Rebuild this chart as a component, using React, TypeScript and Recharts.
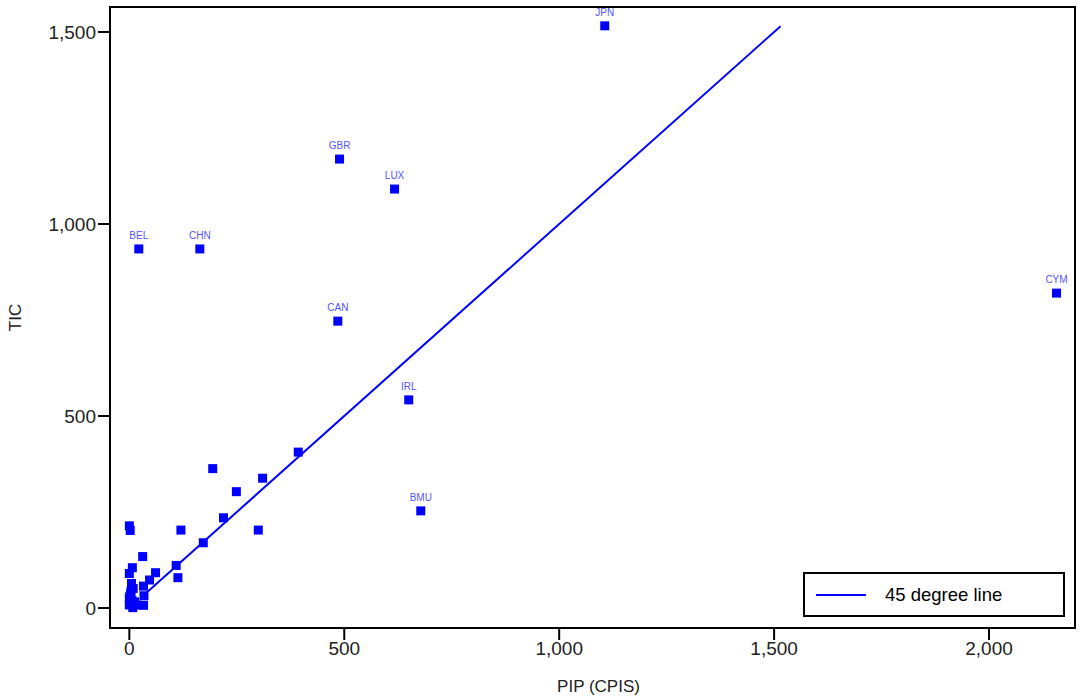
import React from 'react';
import {
  ScatterChart,
  Scatter,
  XAxis,
  YAxis,
  ReferenceArea,
  Legend,
} from 'recharts';

// labelled countries
const codes = ['JPN', 'GBR', 'LUX', 'BEL', 'CHN', 'CAN', 'CYM', 'IRL', 'BMU'];
const codePip = [1106, 489, 617, 22, 164, 485, 2157, 650, 678];
const codeTic = [1516, 1169, 1091, 935, 935, 747, 820, 542, 253];

// the rest (no label)
const otherPip = [393, 194, 310, 249, 219, 300, 120, 0, 2, 172, 31, 7, 109, 0, 61, 113, 47, 33, 5, 9, 34, 33, 3, 0, 12, 0, 8, 17, 4, 1, 6];
const otherTic = [406, 363, 338, 303, 235, 203, 203, 214, 202, 170, 134, 105, 111, 90, 92, 79, 73, 57, 64, 51, 32, 7, 38, 25, 16, 8, 1, 8, 44, 30, 20];

// 45 degree line end points
const linePoints = [30, 1515];

const xTicks = [0, 500, 1000, 1500, 2000];
const yTicks = [0, 500, 1000, 1500];
const X_DOMAIN = [-45, 2200];
const Y_DOMAIN = [-52, 1565];

const BLUE = '#0000ff';
const FONT = '"Liberation Sans", Arial, sans-serif';

const labelled = codes.map((code, i) => ({ code, pip: codePip[i], tic: codeTic[i] }));
const others = otherPip.map((pip, i) => ({ pip, tic: otherTic[i] }));
const lineData = linePoints.map((v) => ({ pip: v, tic: v }));

const fmt = (v: number) => v.toLocaleString('en-US');

const SquareDot = (props: any) => {
  const { cx, cy, payload } = props;
  return (
    <g>
      <rect x={cx - 4.5} y={cy - 4.5} width={9} height={9} fill={BLUE} />
      {payload && payload.code ? (
        <text x={cx} y={cy - 10} textAnchor="middle" fontSize={10} fill="#5555ff" fontFamily={FONT}>
          {payload.code}
        </text>
      ) : null}
    </g>
  );
};

const LegendBox = () => (
  <div
    style={{
      width: 258,
      height: 41,
      border: '2px solid #000',
      background: '#fff',
      display: 'flex',
      alignItems: 'center',
      fontFamily: FONT,
      fontSize: 18.5,
      color: '#000',
    }}
  >
    <div style={{ width: 50, height: 2, background: BLUE, marginLeft: 11, marginRight: 19 }} />
    <span>45 degree line</span>
  </div>
);

export default function App() {
  return (
    <div style={{ position: 'absolute', left: 0, top: 0, width: 1087, height: 699, background: '#fff' }}>
      <ScatterChart width={1087} height={699} margin={{ top: 7, right: 12, bottom: 0, left: 0 }}>
        <XAxis
          type="number"
          dataKey="pip"
          domain={X_DOMAIN}
          ticks={xTicks}
          allowDataOverflow
          tickFormatter={fmt}
          axisLine={false}
          tickSize={12}
          tickLine={{ stroke: '#000', strokeWidth: 2 }}
          tick={{ fill: '#222', fontSize: 19, fontFamily: FONT }}
          height={71}
          label={({ viewBox }: any) => (
            <text
              x={viewBox.x + viewBox.width / 2 + 6}
              y={692}
              textAnchor="middle"
              fontSize={17}
              fill="#222"
              fontFamily={FONT}
            >
              PIP (CPIS)
            </text>
          )}
        />
        <YAxis
          type="number"
          dataKey="tic"
          domain={Y_DOMAIN}
          ticks={yTicks}
          allowDataOverflow
          tickFormatter={fmt}
          axisLine={false}
          tickSize={12}
          tickLine={{ stroke: '#000', strokeWidth: 2 }}
          tick={{ fill: '#222', fontSize: 19, fontFamily: FONT }}
          width={110}
          label={({ viewBox }: any) => {
            const cy = viewBox.y + viewBox.height / 2;
            return (
              <text
                x={21}
                y={cy}
                transform={`rotate(-90 21 ${cy})`}
                textAnchor="middle"
                fontSize={17}
                fill="#222"
                fontFamily={FONT}
              >
                TIC
              </text>
            );
          }}
        />
        <ReferenceArea
          x1={X_DOMAIN[0]}
          x2={X_DOMAIN[1]}
          y1={Y_DOMAIN[0]}
          y2={Y_DOMAIN[1]}
          fill="none"
          stroke="#000"
          strokeWidth={2}
          ifOverflow="visible"
        />
        <Scatter
          name="45 degree line"
          data={lineData}
          line={{ stroke: BLUE, strokeWidth: 2 }}
          shape={() => <g />}
          legendType="line"
          isAnimationActive={false}
        />
        <Scatter data={others} shape={SquareDot} legendType="none" isAnimationActive={false} />
        <Scatter data={labelled} shape={SquareDot} legendType="none" isAnimationActive={false} />
        <Legend
          layout="vertical"
          align="center"
          verticalAlign="middle"
          content={() => <LegendBox />}
          wrapperStyle={{ position: 'absolute', left: 803, top: 572, width: 262 }}
        />
      </ScatterChart>
    </div>
  );
}
